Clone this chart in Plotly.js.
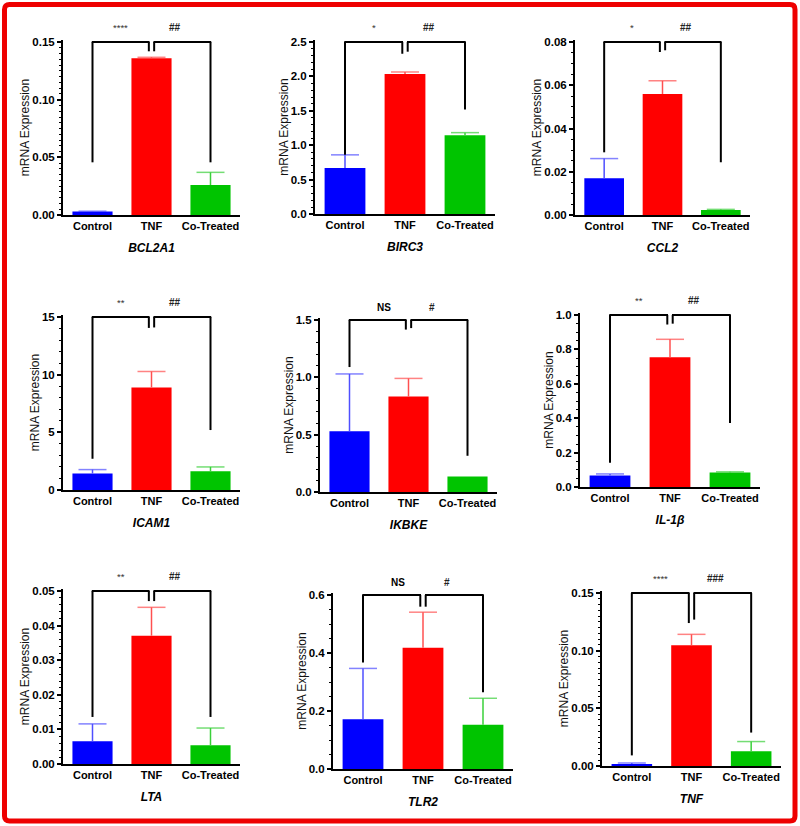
<!DOCTYPE html>
<html>
<head>
<meta charset="utf-8">
<script src="https://cdn.plot.ly/plotly-3.0.1.min.js"></script>
<style>
  html, body { margin: 0; padding: 0; background: #fff; }
  #chart { width: 800px; height: 826px; }
</style>
</head>
<body>
<div id="chart"></div>
<script>
const groups = ['Control', 'TNF', 'Co-Treated'];
const genes = ['BCL2A1', 'BIRC3', 'CCL2', 'ICAM1', 'IKBKE', 'IL-1β', 'LTA', 'TLR2', 'TNF'];

// mean and SEM per group, one entry per gene
const controlMean = [0.003, 0.67, 0.017, 1.43, 0.53, 0.067, 0.0066, 0.172, 0.0017];
const controlSem = [0.0003, 0.19, 0.0091, 0.34, 0.50, 0.009, 0.0050, 0.175, 0.0009];
const tnfMean = [0.136, 2.035, 0.056, 8.9, 0.833, 0.754, 0.0371, 0.418, 0.1048];
const tnfSem = [0.0008, 0.03, 0.0061, 1.38, 0.158, 0.105, 0.0082, 0.123, 0.0094];
const coMean = [0.026, 1.145, 0.0023, 1.63, 0.135, 0.084, 0.0054, 0.153, 0.0129];
const coSem = [0.011, 0.038, 0.0003, 0.37, 0, 0.004, 0.0050, 0.091, 0.0083];

// y axes
const yMax = [0.15, 2.5, 0.08, 15, 1.5, 1.0, 0.05, 0.6, 0.15];
const yStep = [0.05, 0.5, 0.02, 5, 0.5, 0.2, 0.01, 0.2, 0.05];
const yMinor = [0.005, 0.1, 0.005, 1, 0.1, 0.05, 0.002, 0.05, 0.005];
const yFormat = ['.2f', '.1f', '.2f', 'd', '.1f', '.1f', '.2f', '.1f', '.2f'];

// bracket leg ends: [Control, TNF (left bracket), TNF (right bracket), Co-Treated]
const bracketLegs = [
  [0.0457, 0.142, 0.142, 0.0457],
  [0.86, 2.33, 2.36, 1.52],
  [0.029, 0.0754, 0.0762, 0.0244],
  [2.71, 14.06, 14.1, 5.2],
  [1.09, 1.417, 1.43, 0.316],
  [0.141, 0.945, 0.95, 0.372],
  [0.0136, 0.0471, 0.0471, 0.0136],
  [0.367, 0.56, 0.56, 0.265],
  [0.0092, 0.124, 0.127, 0.029]
];
const sigVsControl = ['****', '*', '*', '**', 'NS', '**', '**', 'NS', '****'];
const sigVsTnf = ['##', '##', '##', '##', '#', '##', '##', '#', '###'];

const BAR_COLORS = ['#0000ff', '#ff0000', '#00c400'];
const ERR_COLORS = ['#4f4fff', '#ff5050', '#3ad03a'];
const FONT = 'Arial, "Liberation Sans", sans-serif';
const W = 800, H = 826;

// plot areas in px: [left, right, top, bottom]
const PANEL_BOXES = [
  [63, 240, 40, 215], [315, 495, 40, 214], [575, 750, 40, 215],
  [63, 240, 315, 490], [320, 497, 318, 492], [580, 760, 313, 487],
  [63, 240, 589, 764], [333, 513, 593, 769], [602, 781, 591, 766]
];

const GAP = 0.045;

const traces = [];
const shapes = [];
const annotations = [];
const layout = {
  width: W,
  height: H,
  margin: { l: 0, r: 0, t: 0, b: 0 },
  paper_bgcolor: '#fff',
  plot_bgcolor: '#fff',
  showlegend: false,
  font: { family: FONT, color: '#000' }
};

genes.forEach((gene, i) => {
  const n = i + 1;
  const xa = 'x' + n;
  const ya = 'y' + n;
  const [l, r, t, b] = PANEL_BOXES[i];
  const means = [controlMean[i], tnfMean[i], coMean[i]];
  const sems = [controlSem[i], tnfSem[i], coSem[i]];

  traces.push({
    type: 'bar',
    x: groups,
    y: means,
    xaxis: xa,
    yaxis: ya,
    width: 0.68,
    marker: { color: BAR_COLORS, line: { width: 0 } },
    hoverinfo: 'x+y'
  });

  // error bars drawn upward only
  groups.forEach((g, k) => {
    if (!sems[k]) return;
    traces.push({
      type: 'scatter',
      mode: 'lines+markers',
      x: [g, g],
      y: [means[k], means[k] + sems[k]],
      xaxis: xa,
      yaxis: ya,
      cliponaxis: false,
      line: { color: ERR_COLORS[k], width: 1.5 },
      marker: { symbol: 'line-ew', size: [0, 20], color: ERR_COLORS[k], line: { color: ERR_COLORS[k], width: 1.5 } },
      hoverinfo: 'skip'
    });
  });

  // significance brackets
  const top = yMax[i];
  const legs = bracketLegs[i];
  const brackets = [[0, 1 - GAP, legs[0], legs[1]], [1 + GAP, 2, legs[2], legs[3]]];
  brackets.forEach(([x0, x1, h0, h1]) => {
    const line = { color: '#000', width: 2 };
    shapes.push(
      { type: 'line', xref: xa, yref: ya, x0: x0, x1: x0, y0: h0, y1: top, line },
      { type: 'line', xref: xa, yref: ya, x0: x0 - 0.012, x1: x1 + 0.012, y0: top, y1: top, line },
      { type: 'line', xref: xa, yref: ya, x0: x1, x1: x1, y0: h1, y1: top, line }
    );
  });

  const isNs = sigVsControl[i] === 'NS';
  annotations.push({
    xref: xa, yref: ya, x: isNs ? 0.58 : 0.48, y: top, yshift: isNs ? 13 : 15,
    text: sigVsControl[i], showarrow: false,
    font: { family: FONT, size: isNs ? 10 : 9.5, color: isNs ? '#000' : '#333', weight: isNs ? 'bold' : 'normal' }
  }, {
    xref: xa, yref: ya, x: 1.4, y: top, yshift: isNs ? 13 : 15,
    text: sigVsTnf[i], showarrow: false,
    font: { family: FONT, size: 10, color: '#222', weight: 'bold' }
  });

  layout['xaxis' + (n === 1 ? '' : n)] = {
    domain: [l / W, r / W],
    anchor: ya,
    type: 'category',
    categoryorder: 'array',
    categoryarray: groups,
    range: [-0.5, 2.5],
    showline: true,
    linewidth: 2,
    linecolor: '#000',
    ticks: '',
    showgrid: false,
    zeroline: false,
    fixedrange: true,
    automargin: false,
    tickfont: { family: FONT, size: 11, color: '#000', weight: 'bold' },
    title: {
      text: gene,
      standoff: 12,
      font: { family: FONT, size: 12, color: '#000', weight: 'bold', style: 'italic' }
    }
  };

  layout['yaxis' + (n === 1 ? '' : n)] = {
    domain: [1 - b / H, 1 - t / H],
    anchor: xa,
    range: [0, top * 1.012],
    tickmode: 'linear',
    tick0: 0,
    dtick: yStep[i],
    tickformat: yFormat[i],
    ticks: 'outside',
    ticklen: 4,
    tickwidth: 2,
    tickcolor: '#000',
    minor: { tickmode: 'linear', tick0: 0, dtick: yMinor[i], ticks: 'outside', ticklen: 2, tickwidth: 1, tickcolor: '#000', showgrid: false },
    showline: true,
    linewidth: 2,
    linecolor: '#000',
    showgrid: false,
    zeroline: false,
    fixedrange: true,
    automargin: false,
    tickfont: { family: FONT, size: 11.5, color: '#000', weight: 'bold' },
    title: {
      text: 'mRNA Expression',
      standoff: 0,
      font: { family: FONT, size: 12, color: '#111' }
    }
  };
});

// red frame round the whole figure
function frame(l, t, r, b, rad) {
  const X = v => (v / W).toFixed(5);
  const Y = v => (1 - v / H).toFixed(5);
  return 'M' + X(l + rad) + ',' + Y(t) +
    ' L' + X(r - rad) + ',' + Y(t) + ' Q' + X(r) + ',' + Y(t) + ' ' + X(r) + ',' + Y(t + rad) +
    ' L' + X(r) + ',' + Y(b - rad) + ' Q' + X(r) + ',' + Y(b) + ' ' + X(r - rad) + ',' + Y(b) +
    ' L' + X(l + rad) + ',' + Y(b) + ' Q' + X(l) + ',' + Y(b) + ' ' + X(l) + ',' + Y(b - rad) +
    ' L' + X(l) + ',' + Y(t + rad) + ' Q' + X(l) + ',' + Y(t) + ' ' + X(l + rad) + ',' + Y(t) + ' Z';
}
shapes.push({
  type: 'path',
  xref: 'paper',
  yref: 'paper',
  path: frame(4.5, 4.5, 795, 821, 5),
  line: { color: '#ee0000', width: 5 }
});

layout.shapes = shapes;
layout.annotations = annotations;

Plotly.newPlot('chart', traces, layout, { displayModeBar: false, staticPlot: true });
</script>
</body>
</html>
